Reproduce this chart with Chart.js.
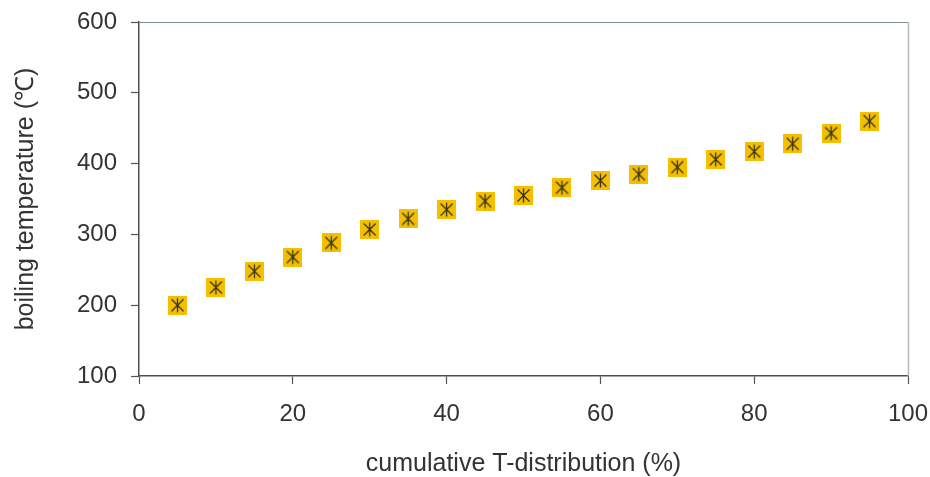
<!DOCTYPE html>
<html>
<head>
<meta charset="utf-8">
<script src="https://cdn.jsdelivr.net/npm/chart.js@4/dist/chart.umd.min.js"></script>
<style>
  html, body { margin: 0; padding: 0; background: #ffffff; }
  #wrap { width: 930px; height: 477px; position: relative; }
</style>
</head>
<body>
<div id="wrap"><canvas id="c" width="930" height="477"></canvas></div>
<script>
// Data
const cumulativePercent = [5, 10, 15, 20, 25, 30, 35, 40, 45, 50, 55, 60, 65, 70, 75, 80, 85, 90, 95];
const boilingTemp = [200, 225, 248, 268, 288, 307, 322, 335, 347, 355, 366, 376, 385, 395, 406, 417, 428, 443, 460];
const xTicks = [0, 20, 40, 60, 80, 100];
const yTicks = [100, 200, 300, 400, 500, 600];
const xTitle = 'cumulative T-distribution (%)';
const yTitle = 'boiling temperature (℃)';

// Marker image: yellow square with dark asterisk
function makeMarker() {
  const s = 19;
  const m = document.createElement('canvas');
  m.width = s; m.height = s;
  const g = m.getContext('2d');
  g.fillStyle = '#F5BF00';
  g.fillRect(0, 0, s, s);
  g.strokeStyle = '#35341e';
  g.lineWidth = 1.3;
  const c = s / 2, r = 6;
  g.beginPath();
  g.moveTo(c - r, c - r); g.lineTo(c + r, c + r);
  g.moveTo(c + r, c - r); g.lineTo(c - r, c + r);
  g.moveTo(c, c - 7); g.lineTo(c, c + 7);
  g.stroke();
  return m;
}
const marker = makeMarker();

const frame = {
  id: 'frame',
  afterDatasetsDraw(chart) {
    const a = chart.chartArea, ctx = chart.ctx;
    ctx.save();
    ctx.lineWidth = 1.2;
    ctx.strokeStyle = '#7f8d94';
    ctx.beginPath(); ctx.moveTo(a.left, a.top + 0.5); ctx.lineTo(a.right, a.top + 0.5); ctx.stroke();
    ctx.strokeStyle = '#b5babd';
    ctx.lineWidth = 1.5;
    ctx.beginPath(); ctx.moveTo(a.right + 0.5, a.top); ctx.lineTo(a.right + 0.5, a.bottom); ctx.stroke();
    ctx.restore();
  }
};

const fontFamily = '"Liberation Sans", Arial, sans-serif';
function noOverhang(scale) {
  scale.paddingLeft = 0; scale.paddingRight = 0;
  scale.paddingTop = 0; scale.paddingBottom = 0;
}

new Chart(document.getElementById('c'), {
  type: 'scatter',
  data: {
    datasets: [{
      data: cumulativePercent.map((x, i) => ({ x: x, y: boilingTemp[i] })),
      pointStyle: marker,
      pointRadius: 10,
      pointHoverRadius: 10,
      showLine: false
    }]
  },
  options: {
    responsive: false,
    animation: false,
    devicePixelRatio: 1,
    layout: { padding: { top: 22, right: 22, left: 0, bottom: 0 } },
    plugins: { legend: { display: false }, tooltip: { enabled: false } },
    scales: {
      x: {
        type: 'linear',
        min: 0, max: 100,
        afterBuildTicks(scale) { scale.ticks = xTicks.map(v => ({ value: v })); },
        afterFit(scale) { scale.height = 101; noOverhang(scale); },
        grid: { drawOnChartArea: false, drawTicks: true, tickLength: 8, color: '#555555', tickWidth: 1.2 },
        border: { display: true, color: '#4a4f52', width: 1.5 },
        ticks: { color: '#333333', font: { family: fontFamily, size: 24 }, padding: 16, maxRotation: 0 },
        title: { display: true, text: xTitle, color: '#333333', font: { family: fontFamily, size: 25, lineHeight: 1.05 }, padding: { top: 0, bottom: 0 } }
      },
      y: {
        type: 'linear',
        min: 100, max: 600,
        afterBuildTicks(scale) { scale.ticks = yTicks.map(v => ({ value: v })); },
        afterFit(scale) { scale.width = 139; noOverhang(scale); },
        grid: { drawOnChartArea: false, drawTicks: true, tickLength: 8, color: '#555555', tickWidth: 1.2 },
        border: { display: true, color: '#4a4f52', width: 1.5 },
        ticks: { color: '#333333', font: { family: fontFamily, size: 24 }, padding: 14 },
        title: { display: true, text: yTitle, color: '#333333', font: { family: fontFamily, size: 25 }, padding: { top: 11, bottom: 0 } }
      }
    }
  },
  plugins: [frame]
});
</script>
</body>
</html>
